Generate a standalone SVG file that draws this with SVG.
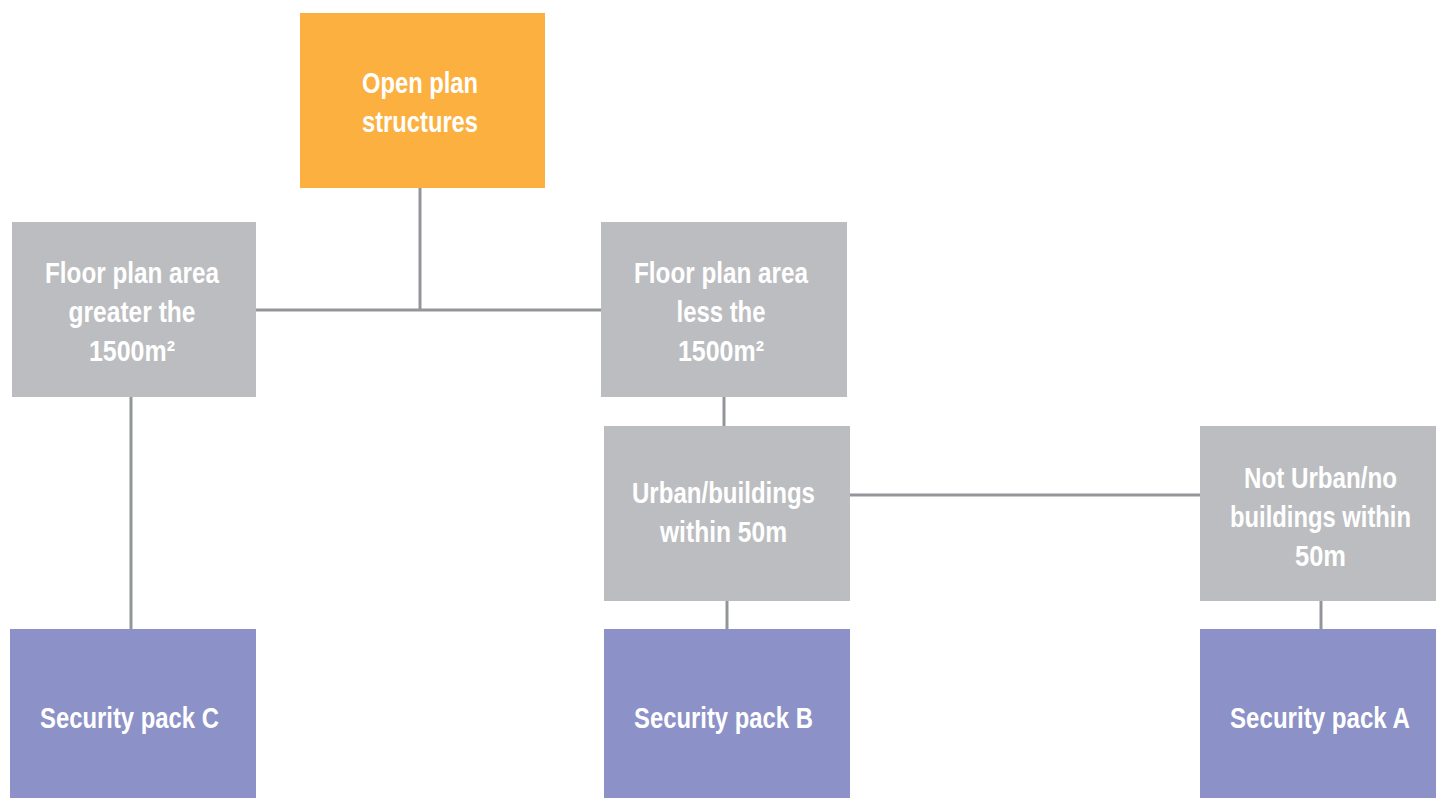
<svg xmlns="http://www.w3.org/2000/svg" width="1436" height="798" viewBox="0 0 1436 798">
<style>
.t{font-family:"Liberation Sans",Arial,sans-serif;font-weight:bold;font-size:29px;fill:#ffffff;text-anchor:middle}
.g{fill:#bcbdc0}
.o{fill:#fbb040}
.p{fill:#8c91c7}
.c{stroke:#939598;stroke-width:3;fill:none}
</style>
<rect width="1436" height="798" fill="#ffffff"/>
<g id="connectors">
<path class="c" d="M420 188V310M256 310H601M131 397V629M724 397V426M727 601V629M850 495H1200M1321 601V629"/>
</g>
<g id="open-plan">
<rect class="o" x="300" y="13" width="245" height="175"/>
<text class="t" x="420" y="93" textLength="116" lengthAdjust="spacingAndGlyphs">Open plan</text>
<text class="t" x="420" y="132" textLength="116" lengthAdjust="spacingAndGlyphs">structures</text>
</g>
<g id="greater">
<rect class="g" x="12" y="222" width="244" height="175"/>
<text class="t" x="132" y="283" textLength="174" lengthAdjust="spacingAndGlyphs">Floor plan area</text>
<text class="t" x="132" y="322" textLength="127" lengthAdjust="spacingAndGlyphs">greater the</text>
<text class="t" x="132" y="361" textLength="86" lengthAdjust="spacingAndGlyphs">1500m²</text>
</g>
<g id="less">
<rect class="g" x="601" y="222" width="246" height="175"/>
<text class="t" x="721" y="283" textLength="174" lengthAdjust="spacingAndGlyphs">Floor plan area</text>
<text class="t" x="721" y="322" textLength="89" lengthAdjust="spacingAndGlyphs">less the</text>
<text class="t" x="721" y="361" textLength="86" lengthAdjust="spacingAndGlyphs">1500m²</text>
</g>
<g id="urban">
<rect class="g" x="604" y="426" width="246" height="175"/>
<text class="t" x="723.5" y="503" textLength="183" lengthAdjust="spacingAndGlyphs">Urban/buildings</text>
<text class="t" x="723.5" y="542" textLength="127" lengthAdjust="spacingAndGlyphs">within 50m</text>
</g>
<g id="not-urban">
<rect class="g" x="1200" y="426" width="236" height="175"/>
<text class="t" x="1320.5" y="488" textLength="153" lengthAdjust="spacingAndGlyphs">Not Urban/no</text>
<text class="t" x="1320.5" y="527" textLength="181" lengthAdjust="spacingAndGlyphs">buildings within</text>
<text class="t" x="1320.5" y="566" textLength="51" lengthAdjust="spacingAndGlyphs">50m</text>
</g>
<g id="pack-c">
<rect class="p" x="10" y="629" width="246" height="169"/>
<text class="t" x="129.5" y="728" textLength="179" lengthAdjust="spacingAndGlyphs">Security pack C</text>
</g>
<g id="pack-b">
<rect class="p" x="604" y="629" width="246" height="169"/>
<text class="t" x="723.5" y="728" textLength="179" lengthAdjust="spacingAndGlyphs">Security pack B</text>
</g>
<g id="pack-a">
<rect class="p" x="1200" y="629" width="236" height="169"/>
<text class="t" x="1320" y="728" textLength="180" lengthAdjust="spacingAndGlyphs">Security pack A</text>
</g>
</svg>
